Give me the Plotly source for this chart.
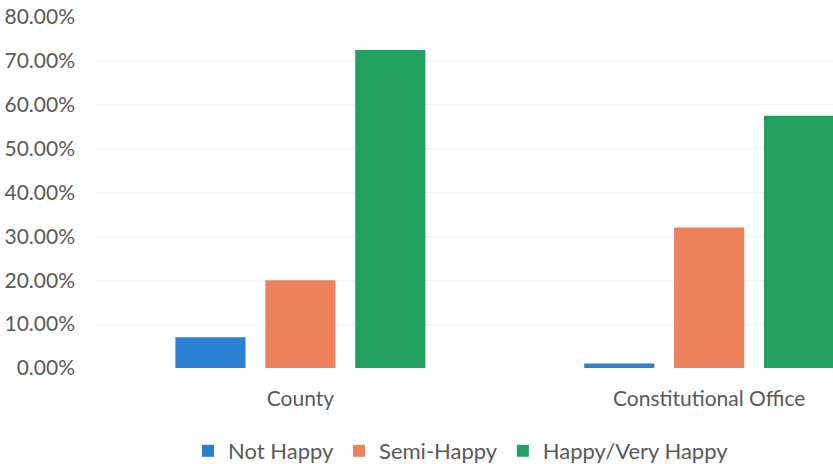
import plotly.graph_objects as go

categories = ["County", "Constitutional Office"]
series_names = ["Not Happy", "Semi-Happy", "Happy/Very Happy"]
not_happy = [0.07, 0.01]
semi_happy = [0.20, 0.32]
happy = [0.725, 0.575]
colors = ["#2b80d3", "#ee825d", "#22a05f"]
y_ticks = [0, 0.1, 0.2, 0.3, 0.4, 0.5, 0.6, 0.7, 0.8]

FONT = "Lato"
fig = go.Figure()
for name, vals, col in zip(series_names, [not_happy, semi_happy, happy], colors):
    fig.add_trace(go.Bar(x=categories, y=vals, name=name, marker_color=col,
                         marker_line_width=0))

fig.update_layout(
    width=833, height=464,
    margin=dict(l=96, r=0, t=17, b=96, autoexpand=False),
    paper_bgcolor="white", plot_bgcolor="white",
    barmode="group", bargap=0.34, bargroupgap=0.22,
    font=dict(family=FONT, size=21, color="#595959"),
    legend=dict(orientation="h", x=188 / 833, xref="container", xanchor="left",
                y=1 - 451 / 464, yref="container", yanchor="middle",
                font=dict(size=22, color="#595959"), itemwidth=30, traceorder="normal"),
    xaxis=dict(range=[-0.5, 1.303], showgrid=False, showline=False, zeroline=False,
               ticks="", ticklabelstandoff=16, automargin=False),
    yaxis=dict(range=[0, 0.8], tickvals=y_ticks, tickformat=".2%",
               showgrid=True, gridcolor="#f3f3f3", gridwidth=1,
               zeroline=False, showline=False, ticks="", ticklabelstandoff=20,
               automargin=False),
)
fig.write_html("out.html", config={"displayModeBar": False},
               post_script="document.body.style.margin='0';document.body.style.overflow='hidden';")
